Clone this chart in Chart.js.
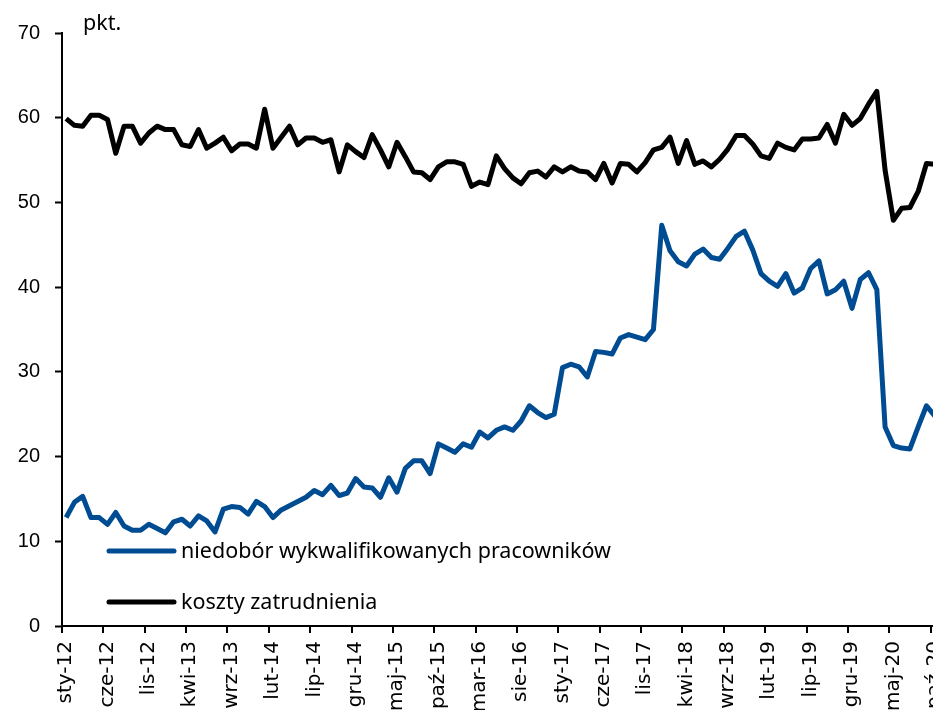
<!DOCTYPE html>
<html>
<head>
<meta charset="utf-8">
<script src="https://cdn.jsdelivr.net/npm/chart.js@4/dist/chart.umd.min.js"></script>
<style>
html, body { margin:0; padding:0; overflow:hidden; background:#fff; width:933px; height:710px; }
#wrap { position:absolute; left:0; top:0; width:975px; height:710px; }
</style>
</head>
<body>
<div id="wrap"><canvas id="c" width="975" height="710"></canvas></div>
<script>
// Monthly categories, Jan 2012 - Nov 2020
const categories = [
  'sty-12','lut-12','mar-12','kwi-12','maj-12','cze-12','lip-12','sie-12','wrz-12','paź-12','lis-12','gru-12',
  'sty-13','lut-13','mar-13','kwi-13','maj-13','cze-13','lip-13','sie-13','wrz-13','paź-13','lis-13','gru-13',
  'sty-14','lut-14','mar-14','kwi-14','maj-14','cze-14','lip-14','sie-14','wrz-14','paź-14','lis-14','gru-14',
  'sty-15','lut-15','mar-15','kwi-15','maj-15','cze-15','lip-15','sie-15','wrz-15','paź-15','lis-15','gru-15',
  'sty-16','lut-16','mar-16','kwi-16','maj-16','cze-16','lip-16','sie-16','wrz-16','paź-16','lis-16','gru-16',
  'sty-17','lut-17','mar-17','kwi-17','maj-17','cze-17','lip-17','sie-17','wrz-17','paź-17','lis-17','gru-17',
  'sty-18','lut-18','mar-18','kwi-18','maj-18','cze-18','lip-18','sie-18','wrz-18','paź-18','lis-18','gru-18',
  'sty-19','lut-19','mar-19','kwi-19','maj-19','cze-19','lip-19','sie-19','wrz-19','paź-19','lis-19','gru-19',
  'sty-20','lut-20','mar-20','kwi-20','maj-20','cze-20','lip-20','sie-20','wrz-20','paź-20','lis-20'
];

// niedobór wykwalifikowanych pracowników (pkt.)
const shortageSeries = [
  12.8,14.6,15.3,12.8,12.8,12.0,13.4,11.8,11.3,11.3,12.0,11.5,
  11.0,12.3,12.6,11.8,13.0,12.4,11.1,13.8,14.1,14.0,13.2,14.7,
  14.1,12.8,13.7,14.2,14.7,15.2,16.0,15.5,16.6,15.4,15.7,17.4,
  16.4,16.3,15.2,17.5,15.8,18.6,19.5,19.5,18.0,21.5,21.0,20.5,
  21.5,21.1,22.9,22.2,23.1,23.5,23.1,24.2,26.0,25.2,24.6,25.0,
  30.5,30.9,30.6,29.4,32.4,32.3,32.1,34.0,34.4,34.1,33.8,35.0,
  47.3,44.3,43.0,42.5,43.9,44.5,43.5,43.3,44.6,46.0,46.6,44.4,
  41.6,40.7,40.1,41.6,39.3,39.9,42.2,43.1,39.2,39.7,40.7,37.5,
  40.9,41.7,39.7,23.5,21.3,21.0,20.9,23.5,26.0,24.8,24.0
];

// koszty zatrudnienia (pkt.)
const costSeries = [
  59.9,59.1,59.0,60.3,60.3,59.8,55.8,59.0,59.0,57.0,58.2,59.0,
  58.6,58.6,56.8,56.6,58.6,56.4,57.0,57.7,56.1,56.9,56.9,56.4,
  61.0,56.4,57.7,59.0,56.8,57.6,57.6,57.1,57.4,53.6,56.8,56.0,
  55.3,58.0,56.2,54.2,57.1,55.4,53.6,53.5,52.7,54.2,54.8,54.8,
  54.5,51.9,52.4,52.1,55.5,54.0,52.9,52.2,53.5,53.7,53.0,54.2,
  53.6,54.2,53.7,53.6,52.7,54.6,52.3,54.6,54.5,53.6,54.7,56.2,
  56.5,57.7,54.6,57.3,54.5,54.9,54.2,55.1,56.3,57.9,57.9,56.9,
  55.5,55.2,57.0,56.5,56.2,57.5,57.5,57.6,59.2,57.0,60.4,59.1,
  59.9,61.6,63.1,53.8,47.9,49.3,49.4,51.3,54.6,54.5,53.2
];

const seriesNames = ['niedobór wykwalifikowanych pracowników', 'koszty zatrudnienia'];
const unitLabel = 'pkt.';
const labelEvery = 5;

const overlay = {
  id: 'overlay',
  afterDraw(chart) {
    const ctx = chart.ctx;
    ctx.save();
    ctx.fillStyle = '#000';
    ctx.font = '21.5px "Noto Sans"';
    ctx.textBaseline = 'alphabetic';
    ctx.textAlign = 'left';
    ctx.fillText(unitLabel, 83, 30);
    const rows = [551, 602];
    chart.data.datasets.forEach((ds, k) => {
      const y = rows[k];
      ctx.strokeStyle = ds.borderColor;
      ctx.lineWidth = 5;
      ctx.lineCap = 'round';
      ctx.beginPath();
      ctx.moveTo(109, y);
      ctx.lineTo(174, y);
      ctx.stroke();
      ctx.fillStyle = '#000';
      ctx.textBaseline = 'middle';
      ctx.fillText(ds.label, 181, y + 1);
    });
    ctx.restore();
  }
};

new Chart(document.getElementById('c'), {
  type: 'line',
  data: {
    labels: categories,
    datasets: [
      { label: seriesNames[0], data: shortageSeries, borderColor: '#004c92', borderWidth: 5,
        pointRadius: 0, tension: 0, borderJoinStyle: 'round', fill: false },
      { label: seriesNames[1], data: costSeries, borderColor: '#000000', borderWidth: 5,
        pointRadius: 0, tension: 0, borderJoinStyle: 'round', fill: false }
    ]
  },
  options: {
    responsive: false,
    animation: false,
    devicePixelRatio: 1,
    layout: { padding: { top: 33, right: 0, left: 0, bottom: 0 } },
    plugins: { legend: { display: false }, tooltip: { enabled: false }, title: { display: false } },
    scales: {
      x: {
        type: 'category',
        offset: true,
        grid: {
          display: true, drawOnChartArea: false, offset: true, tickLength: 7, lineWidth: 2, tickWidth: 2,
          tickColor: (c) => (c.index % labelEvery === 0 ? '#000' : 'rgba(0,0,0,0)'),
          color: (c) => (c.index % labelEvery === 0 ? '#000' : 'rgba(0,0,0,0)')
        },
        border: { display: true, color: '#000', width: 2 },
        ticks: {
          autoSkip: false, maxRotation: 90, minRotation: 90, padding: 8, color: '#000',
          font: { family: 'DejaVu Sans', size: 20 },
          callback: (v, i) => (i % labelEvery === 0 ? categories[i] : '')
        },
        afterFit: (s) => { s.height = 84; }
      },
      y: {
        min: 0, max: 70,
        grid: { display: true, drawOnChartArea: false, tickLength: 7, tickWidth: 2, tickColor: '#000' },
        border: { display: true, color: '#000', width: 2 },
        ticks: { stepSize: 10, padding: 15, color: '#000', font: { family: 'Liberation Sans', size: 20 } },
        afterFit: (s) => { s.width = 62; }
      }
    }
  },
  plugins: [overlay]
});
</script>
</body>
</html>
